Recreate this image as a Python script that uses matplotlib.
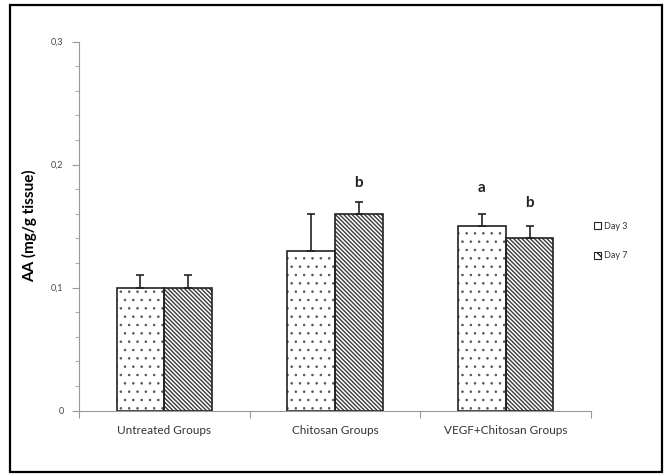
import numpy as np
import matplotlib
matplotlib.use("Agg")
import matplotlib.pyplot as plt
from matplotlib.patches import Rectangle
from matplotlib.ticker import MultipleLocator, FuncFormatter

plt.rcParams['font.family'] = ['Lato', 'DejaVu Sans']

groups = ['Untreated Groups', 'Chitosan Groups', 'VEGF+Chitosan Groups']
day3 = [0.10, 0.13, 0.15]
day7 = [0.10, 0.16, 0.14]
day3_err = [0.01, 0.03, 0.01]
day7_err = [0.01, 0.01, 0.01]
# significance letters: (group index, series, letter, y position)
letters = [(1, 'day7', 'b', 0.185), (2, 'day3', 'a', 0.181), (2, 'day7', 'b', 0.169)]

fig = plt.figure(figsize=(6.67, 4.76), dpi=100)
ax = fig.add_axes([0.1184, 0.1373, 0.7676, 0.7752])

x = np.arange(len(groups))
w = 0.28


def hatched_bars(xpos, vals, hatch, hcolor, hlw):
    # fill + hatch only; outline drawn separately so hatch colour can differ
    with plt.rc_context({'hatch.linewidth': hlw}):
        bars = ax.bar(xpos, vals, w, color='white', edgecolor=hcolor,
                      linewidth=0, hatch=hatch)
    for b in bars:
        if hasattr(b, 'set_hatch_linewidth'):
            b.set_hatch_linewidth(hlw)
    return bars


hatched_bars(x - w / 2, day3, '..', '#555555', 0.6)
hatched_bars(x + w / 2, day7, '\\' * 8, '#3a3a3a', 1.0)

err_kw = dict(ecolor='#222222', elinewidth=1.2, capsize=2.8, capthick=1.2)
ax.bar(x - w / 2, day3, w, yerr=[np.zeros(3), day3_err], fill=False,
       edgecolor='#222222', linewidth=1.2, error_kw=err_kw)
ax.bar(x + w / 2, day7, w, yerr=[np.zeros(3), day7_err], fill=False,
       edgecolor='#222222', linewidth=1.2, error_kw=err_kw)

for gi, series, letter, ypos in letters:
    xpos = gi - w / 2 if series == 'day3' else gi + w / 2
    ax.text(xpos, ypos, letter, ha='center', va='center', fontsize=11,
            fontweight='bold', color='#222222')

ax.set_xlim(-0.5, 2.5)
ax.set_ylim(0, 0.3)
ax.yaxis.set_major_locator(MultipleLocator(0.1))
ax.yaxis.set_minor_locator(MultipleLocator(0.02))
ax.yaxis.set_major_formatter(FuncFormatter(lambda v, p: '0' if v == 0 else f'{v:.1f}'.replace('.', ',')))
ax.set_xticks([-0.5, 0.5, 1.5, 2.5])
ax.set_xticklabels([])
ax.set_xticks(x, minor=True)
ax.set_xticklabels(groups, minor=True, fontsize=8.5, color='#333333')
ax.tick_params(axis='x', which='minor', length=0, pad=10)
ax.tick_params(axis='x', which='major', length=5, color='#999999', direction='out')
ax.tick_params(axis='y', which='major', length=5, color='#999999', labelsize=6.5,
               labelcolor='#444444', pad=6)
ax.tick_params(axis='y', which='minor', length=3, color='#999999')

for s in ['top', 'right']:
    ax.spines[s].set_visible(False)
ax.spines['left'].set_color('#999999')
ax.spines['bottom'].set_color('#999999')

ax.set_ylabel('AA (mg/g tissue)', fontsize=11, fontweight='bold', labelpad=10)

# legend with proxy squares
h3 = Rectangle((0, 0), 1, 1, facecolor='white', edgecolor='#222222', linewidth=0.8)
h7 = Rectangle((0, 0), 1, 1, facecolor='white', edgecolor='#222222', linewidth=0.8,
               hatch='\\\\\\')
leg = ax.legend([h3, h7], ['Day 3', 'Day 7'], loc='center left',
                bbox_to_anchor=(1.006, 0.46), frameon=False, borderpad=0,
                borderaxespad=0, fontsize=6.5, handlelength=0.8, handleheight=0.8,
                handletextpad=0.25, labelspacing=2.3)
for t in leg.get_texts():
    t.set_color('#333333')

fig.patches.append(Rectangle((0.015, 0.0084), 0.9775, 0.981, transform=fig.transFigure,
                             fill=False, edgecolor='black', linewidth=1.6))

fig.savefig('out.png', dpi=100)
